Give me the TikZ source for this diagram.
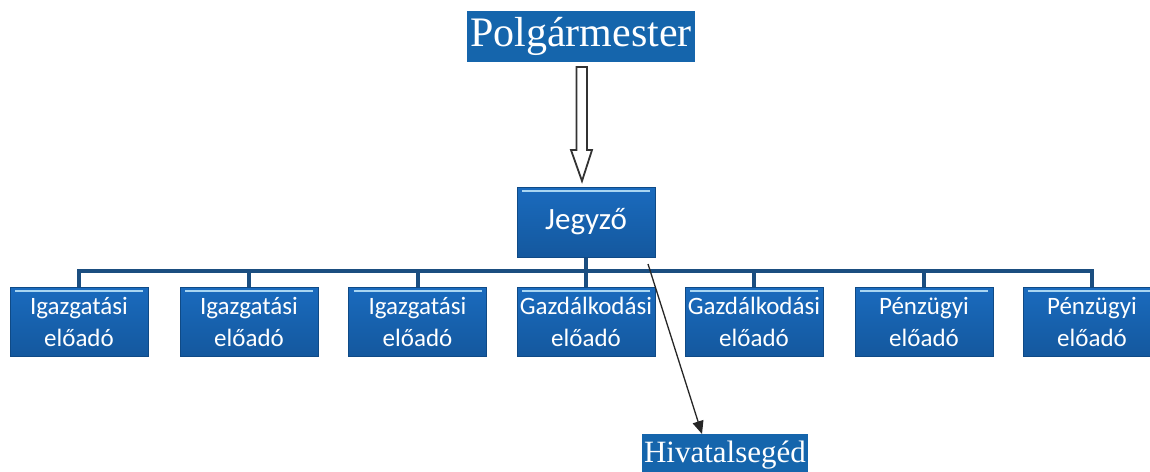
\documentclass[tikz,border=0pt]{standalone}
\usepackage{fontspec}
\setmainfont{Liberation Serif}
\newfontfamily\carlito{Carlito}
\usetikzlibrary{arrows.meta}
\definecolor{boxblue}{HTML}{1A6BBE}
\definecolor{boxdark}{HTML}{14589E}
\definecolor{boxedge}{HTML}{0F4A86}
\definecolor{titleblue}{HTML}{1565AC}
\definecolor{linkblue}{HTML}{1B4E80}
\definecolor{hilite}{HTML}{A8D6F2}
\tikzset{
  unitbox/.style={draw=boxedge, line width=1pt, top color=boxblue, bottom color=boxdark,
    text=white, inner sep=0pt, align=center, minimum width=138pt,
    font=\carlito\fontsize{25}{32}\selectfont,
    path picture={\draw[hilite, line width=1.6pt]
      ([xshift=5pt,yshift=-4pt]path picture bounding box.north west) --
      ([xshift=-5pt,yshift=-4pt]path picture bounding box.north east);}},
  childbox/.style={unitbox, minimum height=69pt},
  titlebox/.style={fill=titleblue, text=white, inner sep=0pt},
  treelink/.style={draw=linkblue, line width=4pt},
}
\begin{document}
\begin{tikzpicture}[x=1pt,y=-1pt]
\useasboundingbox (0,0) rectangle (1150,471);
\fill[white] (0,0) rectangle (1150,471);
\clip (0,0) rectangle (1150,471);

\node[titlebox, minimum width=228pt, minimum height=51pt,
  font=\fontsize{42}{42}\selectfont] (polg) at (581,36.5) {Polgármester};
\node[unitbox, minimum height=70pt, font=\carlito\fontsize{31}{31}\selectfont] (jeg) at (586,222) {Jegyző};

\node[childbox] (c1) at (79,321.5) {Igazgatási\\előadó};
\node[childbox] (c2) at (249,321.5) {Igazgatási\\előadó};
\node[childbox] (c3) at (417.5,321.5) {Igazgatási\\előadó};
\node[childbox] (c4) at (586,321.5) {Gazdálkodási\\előadó};
\node[childbox] (c5) at (754,321.5) {Gazdálkodási\\előadó};
\node[childbox] (c6) at (924,321.5) {Pénzügyi\\előadó};
\node[childbox] (c7) at (1092,321.5) {Pénzügyi\\előadó};

\node[titlebox, minimum width=166pt, minimum height=46pt, anchor=north,
  font=\fontsize{31}{31}\selectfont, text depth=12pt, text height=23pt] (hiv) at (725,434) {Hivatalsegéd};

% tree connectors
\coordinate (bar) at (586,271);
\draw[treelink] (jeg.south) -- (bar);
\draw[treelink, line cap=rect] (c1.north |- bar) -- (c7.north |- bar);
\foreach \c in {c1,c2,c3,c4,c5,c6,c7}{
  \draw[treelink] (\c.north |- bar) -- (\c.north);
}

% hollow block arrow from Polgármester to Jegyző
\draw[draw=black!80, line width=1.8pt, fill=white, line join=miter]
  (576.5,67) -- (587,67) -- (587,150) -- (592,150) -- (582,181)
  -- (571,150) -- (576.5,150) -- cycle;

% arrow to Hivatalsegéd
\coordinate (hs) at (648,264);
\draw[black!85, line width=1.3pt, -{Triangle[length=13pt,width=11pt]}]
  (hs) -- ([xshift=-23pt]hiv.north);
\end{tikzpicture}
\end{document}
